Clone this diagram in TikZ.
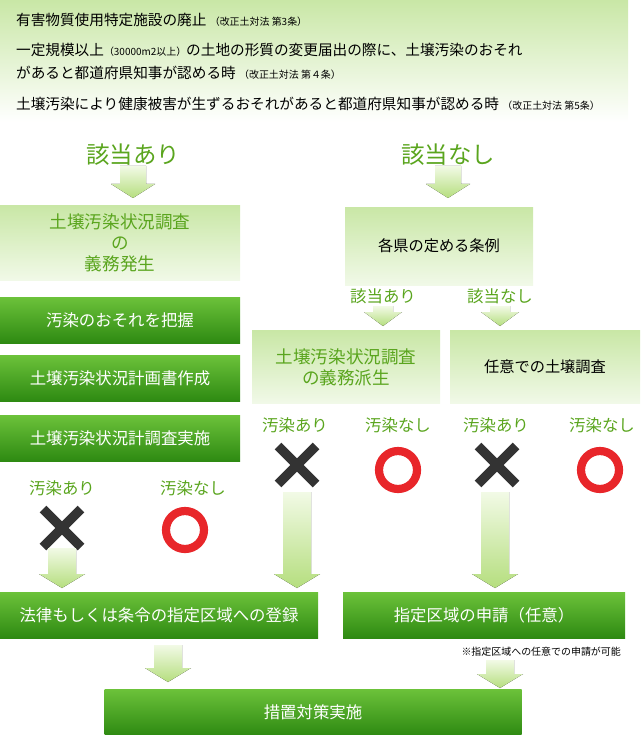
\documentclass[tikz,border=0pt]{standalone}
\usepackage{fontspec}
\setmainfont{Noto Sans CJK JP}
\usepackage{tikz}
\usepackage{xcolor}
\definecolor{txtgreen}{HTML}{5AA51E}
\definecolor{darkA}{HTML}{6CC23A}
\definecolor{darkB}{HTML}{2E8A12}
\definecolor{paleA}{HTML}{C9E7A6}
\definecolor{paleB}{HTML}{F1F9E8}
\definecolor{arrowA}{HTML}{F2FAE6}
\definecolor{arrowB}{HTML}{B5DE7E}
\definecolor{crossgray}{HTML}{333333}
\definecolor{ringred}{HTML}{E8262A}
\tikzset{
  darkbox/.style={rectangle, draw=none, top color=darkA, bottom color=darkB, text=white, font=\fontsize{14}{16}\selectfont},
  palebox/.style={rectangle, draw=none, top color=paleA, bottom color=paleB, align=center, font=\fontsize{13}{15}\selectfont},
  bigtag/.style={text=txtgreen, font=\fontsize{20}{22}\selectfont},
  tag/.style={text=txtgreen, font=\fontsize{14}{16}\selectfont},
  smalltxt/.style={font=\fontsize{8.5}{10}\selectfont},
  cross/.style={line width=8pt, crossgray},
  ring/.style={line width=7pt, ringred},
  blockarrow/.style={top color=arrowA, bottom color=arrowB, draw=none}
}
\newcommand{\fatarrow}[4]{% x, y top, y bottom, half width
  \fill[blockarrow] (#1-#4,#2) -- (#1+#4,#2) -- (#1+#4,#3-14) -- (#1+#4+9,#3-14)
    -- (#1,#3) -- (#1-#4-9,#3-14) -- (#1-#4,#3-14) -- cycle;}
\newcommand{\crossmark}[2]{%
  \draw[cross] (#1-19,#2-19) -- (#1+19,#2+19);
  \draw[cross] (#1-19,#2+19) -- (#1+19,#2-19);}
\begin{document}
\begin{tikzpicture}[x=0.03cm, y=-0.03cm]
\useasboundingbox (0,0) rectangle (640,735);
% top conditions
\fill[top color=paleA, bottom color=white] (0,0) rectangle (628,122);
\node[anchor=west, font=\fontsize{12.5}{14}\selectfont] (c1) at (12,20) {有害物質使用特定施設の廃止 {\fontsize{8.5}{10}\selectfont（改正土対法 第3条）}};
\node[anchor=west, font=\fontsize{12.5}{14}\selectfont] (c2) at (12,50) {一定規模以上{\fontsize{8.5}{10}\selectfont（30000m2以上）}の土地の形質の変更届出の際に、土壌汚染のおそれ};
\node[anchor=west, font=\fontsize{12.5}{14}\selectfont] (c3) at (12,73) {があると都道府県知事が認める時 {\fontsize{8.5}{10}\selectfont（改正土対法 第４条）}};
\node[anchor=west, font=\fontsize{12.5}{14}\selectfont] (c4) at (12,104) {土壌汚染により健康被害が生ずるおそれがあると都道府県知事が認める時 {\fontsize{8.5}{10}\selectfont（改正土対法 第5条）}};
% branches
\node[bigtag] (yes) at (133,155) {該当あり};
\node[bigtag] (no) at (448,155) {該当なし};
\fatarrow{133}{166}{198}{13}
\fatarrow{448}{166}{198}{13}
% left column
\node[palebox, text=txtgreen, font=\fontsize{15}{18}\selectfont, minimum width=240*0.03cm, minimum height=75*0.03cm, inner sep=0pt] (duty) at (120,243) {土壌汚染状況調査\\の\\義務発生};
\node[darkbox, minimum width=240*0.03cm, minimum height=46*0.03cm] (grasp) at (120,320) {汚染のおそれを把握};
\node[darkbox, minimum width=240*0.03cm, minimum height=46*0.03cm] (plan) at (120,378) {土壌汚染状況計画書作成};
\node[darkbox, minimum width=240*0.03cm, minimum height=46*0.03cm] (survey) at (120,438) {土壌汚染状況計調査実施};
\node[tag] (lyes) at (62,488) {汚染あり};
\node[tag] (lno) at (193,488) {汚染なし};
\crossmark{62}{528}
\draw[ring] (185,530) circle (19);
\fatarrow{62}{548}{588}{14}
% right column
\node[palebox, minimum width=188*0.03cm, minimum height=78*0.03cm] (rule) at (439,246) {各県の定める条例};
\node[tag] (ryes) at (383,296) {該当あり};
\node[tag] (rno) at (500,296) {該当なし};
\fatarrow{383}{306}{326}{10}
\fatarrow{500}{306}{326}{10}
\node[palebox, text=txtgreen, font=\fontsize{15}{18}\selectfont, minimum width=188*0.03cm, minimum height=73*0.03cm, inner sep=0pt] (duty2) at (346,367) {土壌汚染状況調査\\の義務派生};
\node[palebox, minimum width=190*0.03cm, minimum height=73*0.03cm] (free) at (545,367) {任意での土壌調査};
\node[tag] (myes) at (295,425) {汚染あり};
\node[tag] (mno) at (398,425) {汚染なし};
\node[tag] (nyes) at (496,425) {汚染あり};
\node[tag] (nno) at (602,425) {汚染なし};
\crossmark{297}{465}
\draw[ring] (398,470) circle (19);
\crossmark{497}{465}
\draw[ring] (600,470) circle (19);
\fatarrow{297}{492}{588}{14}
\fatarrow{495}{492}{588}{14}
% bottom
\node[darkbox, minimum width=318*0.03cm, minimum height=46*0.03cm] (reg) at (159,615) {法律もしくは条令の指定区域への登録};
\node[darkbox, minimum width=282*0.03cm, minimum height=46*0.03cm] (apply) at (484,615) {指定区域の申請（任意）};
\node[smalltxt, anchor=east] (note) at (625,652) {※指定区域への任意での申請が可能};
\fatarrow{168}{645}{682}{14}
\fatarrow{500}{660}{688}{14}
\node[darkbox, minimum width=417*0.03cm, minimum height=46*0.03cm] (act) at (313,712) {措置対策実施};
\end{tikzpicture}
\end{document}
